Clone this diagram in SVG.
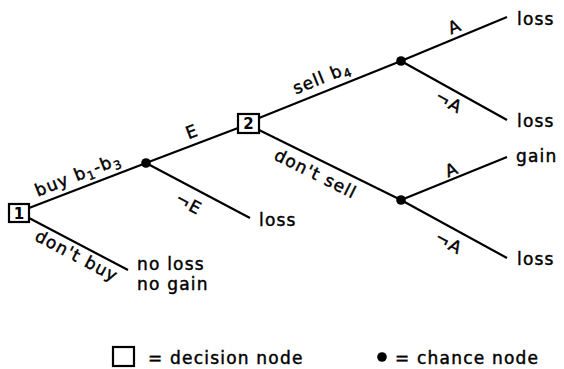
<svg xmlns="http://www.w3.org/2000/svg" width="564" height="369" viewBox="0 0 564 369">
<style>
text{font-family:"DejaVu Sans","Liberation Sans",sans-serif;font-size:17px;fill:#000;stroke:#000;stroke-width:0.45;letter-spacing:1.2px}
.lbl{text-anchor:middle}
.sub{font-size:12px}
.edge{stroke:#000;stroke-width:2.2;fill:none}
.box{fill:#fff;stroke:#000;stroke-width:2.2}
.num{font-size:15px;font-weight:bold;text-anchor:middle;letter-spacing:0;stroke-width:0}
</style>
<rect width="564" height="369" fill="#fff"/>
<g id="connectors">
<line class="edge" x1="29" y1="208" x2="146" y2="163"/>
<line class="edge" x1="29" y1="218" x2="128" y2="270"/>
<line class="edge" x1="146" y1="163" x2="238" y2="128"/>
<line class="edge" x1="146" y1="163" x2="250" y2="218"/>
<line class="edge" x1="259" y1="118" x2="401" y2="61"/>
<line class="edge" x1="259" y1="130" x2="401" y2="200"/>
<line class="edge" x1="401" y1="61" x2="507" y2="17"/>
<line class="edge" x1="401" y1="61" x2="507" y2="120"/>
<line class="edge" x1="401" y1="200" x2="507" y2="157"/>
<line class="edge" x1="401" y1="200" x2="507" y2="258"/>
<text class="lbl" transform="translate(80,180) rotate(-21.6)">buy b<tspan class="sub" dy="4">1</tspan><tspan dy="-4">-b</tspan><tspan class="sub" dy="4">3</tspan></text>
<text class="lbl" transform="translate(74,261) rotate(27.9)">don't buy</text>
<text class="lbl" transform="translate(194,137) rotate(-21)">E</text>
<text class="lbl" transform="translate(186,209) rotate(27.9)">¬E</text>
<text class="lbl" transform="translate(324,83) rotate(-22)">sell b<tspan class="sub" dy="4">4</tspan></text>
<text class="lbl" transform="translate(313,179) rotate(26.6)">don't sell</text>
<text class="lbl" transform="translate(457,32) rotate(-22.5)">A</text>
<text class="lbl" transform="translate(446,107) rotate(29)">¬A</text>
<text class="lbl" transform="translate(454,175) rotate(-22)">A</text>
<text class="lbl" transform="translate(446,248) rotate(28.7)">¬A</text>
</g>
<g id="d1"><rect class="box" x="9" y="204" width="20" height="18"/><text class="num" x="19" y="219">1</text></g>
<g id="c1"><circle cx="146" cy="163" r="4.8"/></g>
<g id="d2"><rect class="box" x="238" y="114" width="21" height="19"/><text class="num" x="248.5" y="129">2</text></g>
<g id="c2"><circle cx="401" cy="61" r="4.8"/></g>
<g id="c3"><circle cx="401" cy="200" r="4.8"/></g>
<g id="o1"><text x="137" y="270">no loss</text><text x="137" y="290">no gain</text></g>
<g id="o2"><text x="259" y="226">loss</text></g>
<g id="o3"><text x="517" y="25">loss</text></g>
<g id="o4"><text x="517" y="127">loss</text></g>
<g id="o5"><text x="516" y="162">gain</text></g>
<g id="o6"><text x="517" y="265">loss</text></g>
<g id="legend">
<rect class="box" x="113" y="347" width="21" height="19" stroke-width="2"/>
<text x="148" y="364">= decision node</text>
<circle cx="382" cy="357" r="4.8"/>
<text x="395" y="364">= chance node</text>
</g>
</svg>
